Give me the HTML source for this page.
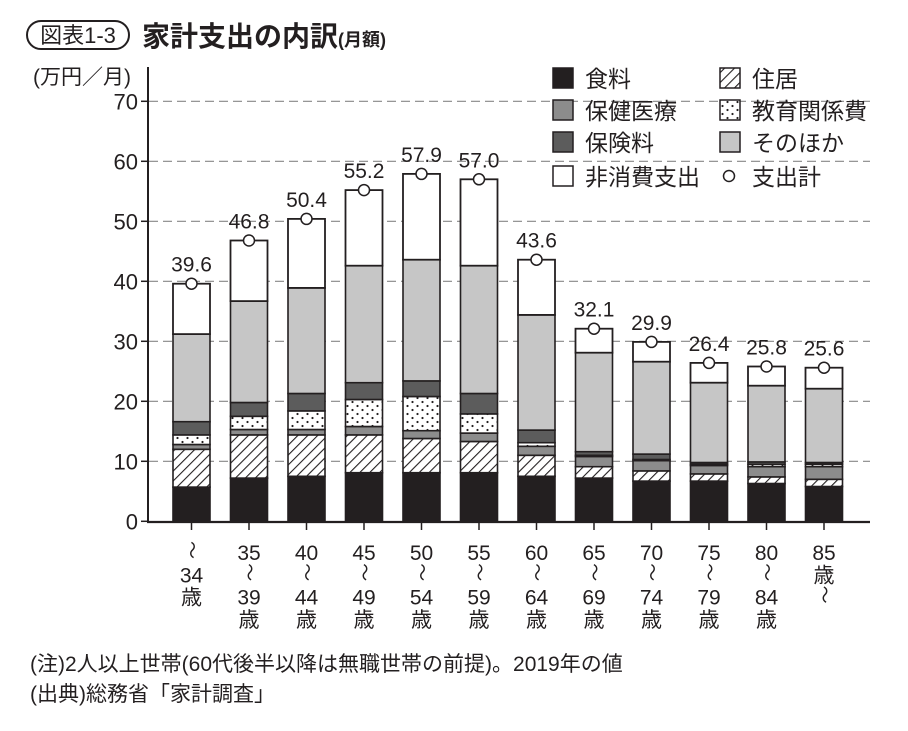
<!DOCTYPE html>
<html><head><meta charset="utf-8">
<style>
body{margin:0;background:#fff;width:908px;height:726px;overflow:hidden;font-family:"Liberation Sans","Noto Sans CJK JP",sans-serif;color:#231f20}
svg text{font-family:"Liberation Sans","Noto Sans CJK JP",sans-serif;fill:#231f20}
</style></head><body>
<svg id="chart" width="908" height="726" viewBox="0 0 908 726">
<defs>
<pattern id="hatch" patternUnits="userSpaceOnUse" width="7" height="7" patternTransform="rotate(45)">
<rect width="7" height="7" fill="#fff"/><line x1="0" y1="0" x2="0" y2="7" stroke="#231f20" stroke-width="2.2"/></pattern>
<pattern id="dots" patternUnits="userSpaceOnUse" width="10" height="8">
<rect width="10" height="8" fill="#fff"/><circle cx="2.5" cy="2" r="1.1" fill="#231f20"/><circle cx="7.5" cy="6" r="1.1" fill="#231f20"/></pattern>
</defs>
<g>
<rect x="27" y="21" width="102" height="28" rx="14" fill="none" stroke="#231f20" stroke-width="2"/>
<text x="78" y="43" font-size="22" text-anchor="middle">図表1-3</text>
<text x="142" y="46" font-size="28" font-weight="bold">家計支出の内訳<tspan font-size="18">(月額)</tspan></text>
</g>
<text x="131" y="84" font-size="21" text-anchor="end">(万円／月)</text>
<g id="grid"></g>
<g id="bars"></g>
<g id="axes"></g>
<g font-size="23">
<rect x="553" y="68" width="20" height="20" fill="#231f20" stroke="#231f20" stroke-width="1.5"/>
<text x="585" y="87">食料</text>
<rect x="720" y="68" width="20" height="20" fill="url(#hatch)" stroke="#231f20" stroke-width="1.5"/>
<text x="752" y="87">住居</text>
<rect x="553" y="100" width="20" height="20" fill="#8c8c8c" stroke="#231f20" stroke-width="1.5"/>
<text x="585" y="119">保健医療</text>
<rect x="720" y="100" width="20" height="20" fill="url(#dots)" stroke="#231f20" stroke-width="1.5"/>
<text x="752" y="119">教育関係費</text>
<rect x="553" y="132" width="20" height="20" fill="#5c5c5c" stroke="#231f20" stroke-width="1.5"/>
<text x="585" y="151">保険料</text>
<rect x="720" y="132" width="20" height="20" fill="#c6c6c6" stroke="#231f20" stroke-width="1.5"/>
<text x="752" y="151">そのほか</text>
<rect x="553" y="166" width="20" height="20" fill="#fff" stroke="#231f20" stroke-width="1.5"/>
<text x="585" y="185">非消費支出</text>
<circle cx="729" cy="176" r="5.5" fill="#fff" stroke="#231f20" stroke-width="1.5"/>
<text x="752" y="185">支出計</text>
</g>
<text x="30" y="671" font-size="21">(注)2人以上世帯(60代後半以降は無職世帯の前提)。2019年の値</text>
<text x="30" y="701" font-size="21">(出典)総務省「家計調査」</text>
</svg>
<script>
const categories=[["〜","34","歳"],["35","〜","39","歳"],["40","〜","44","歳"],["45","〜","49","歳"],["50","〜","54","歳"],["55","〜","59","歳"],["60","〜","64","歳"],["65","〜","69","歳"],["70","〜","74","歳"],["75","〜","79","歳"],["80","〜","84","歳"],["85","歳","〜"]];
const food=[5.7,7.2,7.5,8.1,8.1,8.1,7.5,7.2,6.7,6.7,6.3,5.8];
const housing=[6.3,7.2,6.9,6.3,5.7,5.2,3.5,1.9,1.7,1.2,1.1,1.2];
const health=[0.8,0.9,0.9,1.4,1.3,1.4,1.5,1.7,1.7,1.4,1.7,2.1];
const education=[1.6,2.2,3.1,4.5,5.7,3.2,0.6,0.2,0.2,0.2,0.4,0.4];
const insurance=[2.2,2.3,2.9,2.8,2.6,3.4,2.1,0.6,0.9,0.3,0.4,0.3];
const other=[14.6,16.9,17.6,19.5,20.2,21.3,19.2,16.5,15.4,13.3,12.7,12.3];
const totals=[39.6,46.8,50.4,55.2,57.9,57.0,43.6,32.1,29.9,26.4,25.8,25.6];
const yTicks=[0,10,20,30,40,50,60,70];

const NS="http://www.w3.org/2000/svg";
const y=v=>521.3-6*v;
const x=i=>191.5+57.5*i;
const BW=37;
function mk(tag,attrs,parent){const e=document.createElementNS(NS,tag);for(const k in attrs)e.setAttribute(k,attrs[k]);parent.appendChild(e);return e;}
const grid=document.getElementById('grid'),bars=document.getElementById('bars'),axes=document.getElementById('axes');
yTicks.forEach(t=>{
  if(t>0){const g=mk('line',{x1:149,x2:870,y1:y(t),y2:y(t),stroke:'#888','stroke-width':1.2,'stroke-dasharray':'9 5'},grid);
  
  }
  const tk=mk('line',{x1:141,x2:148,y1:y(t),y2:y(t),stroke:'#231f20','stroke-width':1.5},axes);
  
  
  const lb=mk('text',{x:138,y:y(t)+8,'font-size':22,'text-anchor':'end'},axes);lb.textContent=t;
  
  
});
const series=[[food,'#231f20','food'],[housing,'url(#hatch)','housing'],[health,'#8c8c8c','health'],[education,'url(#dots)','education'],[insurance,'#5c5c5c','insurance'],[other,'#c6c6c6','other']];
categories.forEach((c,i)=>{
  let cum=0;
  series.forEach(([arr,fill,nm])=>{
    const v=arr[i];
    const r=mk('rect',{x:x(i)-BW/2,y:y(cum+v),width:BW,height:6*v,fill:fill,stroke:'#231f20','stroke-width':1.6},bars);
    
    
    cum+=v;
  });
  const nc=totals[i]-cum;
  const r=mk('rect',{x:x(i)-BW/2,y:y(totals[i]),width:BW,height:6*nc,fill:'#fff',stroke:'#231f20','stroke-width':1.8},bars);
  
  
  const ci=mk('circle',{cx:x(i),cy:y(totals[i]),r:5.5,fill:'#fff',stroke:'#231f20','stroke-width':1.5},bars);
  
  
  const tl=mk('text',{x:x(i),y:y(totals[i])-12,'font-size':21,'text-anchor':'middle'},bars);tl.textContent=totals[i].toFixed(1);
  
  
  const tk=mk('line',{x1:x(i),x2:x(i),y1:522,y2:530,stroke:'#231f20','stroke-width':1.5},axes);
  
  
  const g=mk('g',{},axes);
  
  
  c.forEach((s,j)=>{
    const cy=556+22.3*j;
    if(s==='〜'){const t=mk('text',{x:0,y:0,'font-size':18,'text-anchor':'middle',transform:`translate(${x(i)},${cy-6}) rotate(90)`},g);t.textContent='〜';t.setAttribute('dy','6');}
    else{const t=mk('text',{x:x(i),y:cy+4,'font-size':21,'text-anchor':'middle'},g);t.textContent=s;}
  });
});
const ya=mk('line',{x1:148,x2:148,y1:67,y2:522,stroke:'#231f20','stroke-width':2},axes);


const xa=mk('line',{x1:147,x2:870,y1:522,y2:522,stroke:'#231f20','stroke-width':2.2},axes);


</script>
</body></html>
